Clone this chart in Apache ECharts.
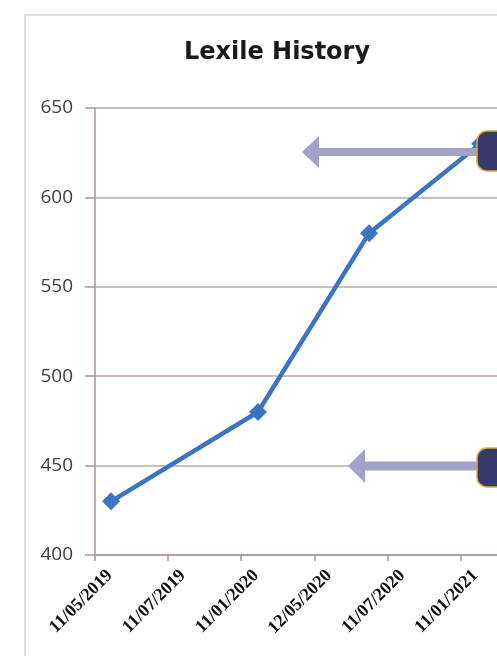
<!DOCTYPE html>
<html>
<head>
<meta charset="utf-8">
<script src="https://cdn.jsdelivr.net/npm/echarts@6/dist/echarts.min.js"></script>
<style>
html,body{margin:0;padding:0;background:#fff;}
#chart{width:497px;height:656px;}
</style>
</head>
<body>
<div id="chart"></div>
<script>
const chartTitle = 'Lexile History';
const tickLabels = ['11/05/2019','11/07/2019','11/01/2020','12/05/2020','11/07/2020','11/01/2021'];
const pointPos = [0.22, 2.23, 3.75, 5.27];
const lexile = [430, 480, 580, 630];
const yTicks = [400, 450, 500, 550, 600, 650];

const chart = echarts.init(document.getElementById('chart'));
const seriesData = pointPos.map((p, i) => [p, lexile[i]]);

function arrow(tipX, y, headBack, headHalf, shaftHalf, endX) {
  return [[tipX, y], [headBack, y - headHalf], [headBack, y - shaftHalf], [endX, y - shaftHalf],
          [endX, y + shaftHalf], [headBack, y + shaftHalf], [headBack, y + headHalf]];
}

chart.setOption({
  animation: false,
  backgroundColor: '#ffffff',
  title: {
    text: chartTitle,
    left: 272,
    top: 36,
    textAlign: 'center',
    textStyle: { fontFamily: 'DejaVu Sans', fontWeight: 'bold', fontSize: 24, color: '#1a1a1a' }
  },
  grid: { left: 95, top: 108, bottom: 101, right: 0 },
  xAxis: {
    type: 'value', min: 0, max: 5.5, interval: 1,
    axisLine: { show: true, lineStyle: { color: '#a89494', width: 1.5 } },
    axisTick: { show: true, length: 6, lineStyle: { color: '#a89494', width: 1.5 } },
    splitLine: { show: false },
    axisLabel: {
      rotate: 45, margin: 3, verticalAlign: 'top', padding: [12, 0, 0, 0],
      showMaxLabel: false,
      fontFamily: 'Liberation Serif', fontWeight: 'bold', fontSize: 18, color: '#111',
      formatter: v => tickLabels[v] || ''
    }
  },
  yAxis: {
    type: 'value', min: yTicks[0], max: yTicks[yTicks.length - 1], interval: 50,
    axisLine: { show: true, lineStyle: { color: '#a89494', width: 1.5 } },
    axisTick: { show: true, length: 10, lineStyle: { color: '#a89494', width: 1.5 } },
    splitLine: { show: true, lineStyle: { color: '#bba9a9', width: 1.5 } },
    axisLabel: { margin: 22, fontFamily: 'Open Sans', fontSize: 19, color: '#404040' }
  },
  series: [{
    type: 'line',
    data: seriesData,
    symbol: 'diamond',
    symbolSize: 18,
    lineStyle: { color: '#3a74c2', width: 4.5 },
    itemStyle: { color: '#3a74c2' },
    z: 3
  }],
  graphic: [
    { type: 'rect', z: -10, shape: { x: 25, y: 15, width: 520, height: 700 },
      style: { fill: '#ffffff', stroke: '#d6d6d6', lineWidth: 1.5 } },
    { type: 'polygon', z: 50, shape: { points: arrow(302, 152, 319, 16, 4, 480) },
      style: { fill: '#a1a1c9' } },
    { type: 'rect', z: 51, shape: { x: 477, y: 131, width: 40, height: 40, r: 10 },
      style: { fill: '#363a6b', stroke: '#e0a840', lineWidth: 1.5 } },
    { type: 'polygon', z: 50, shape: { points: arrow(348, 466, 365, 17, 4.5, 480) },
      style: { fill: '#a1a1c9' } },
    { type: 'rect', z: 51, shape: { x: 477, y: 448, width: 40, height: 39, r: 10 },
      style: { fill: '#363a6b', stroke: '#e0a840', lineWidth: 1.5 } }
  ]
});
</script>
</body>
</html>
